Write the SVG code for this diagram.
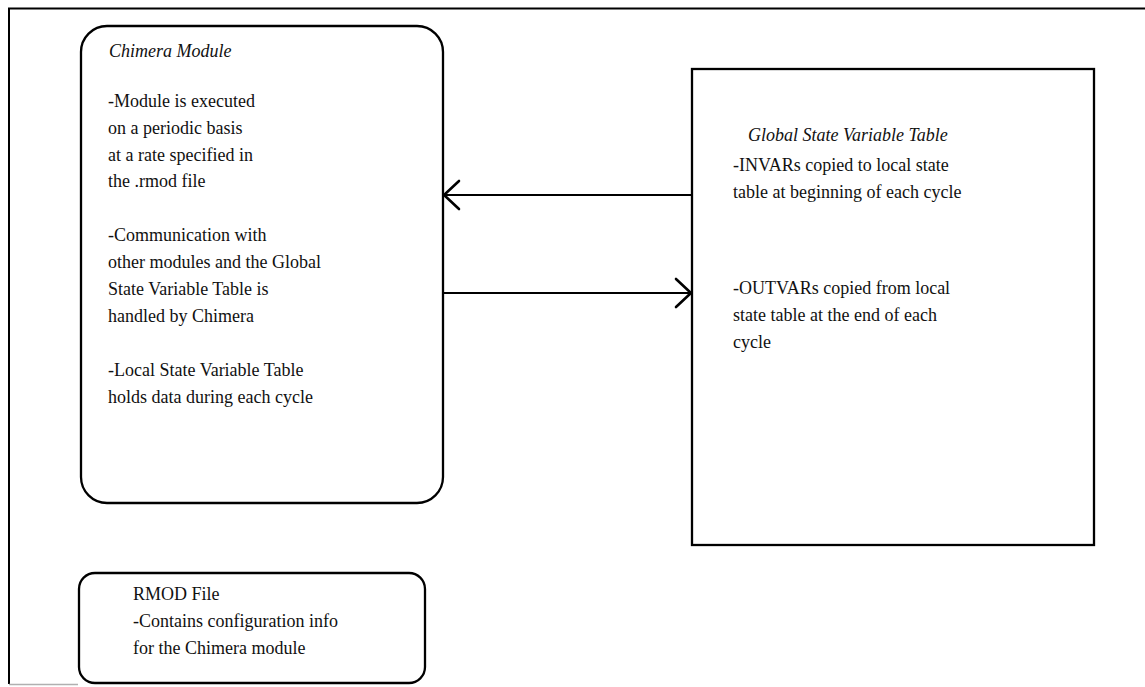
<svg xmlns="http://www.w3.org/2000/svg" width="1145" height="687" viewBox="0 0 1145 687">
<style>
  .box { fill: #ffffff; stroke: #000000; stroke-width: 2.3; }
  .t { font-size: 18px; fill: #111111; }
  .ti { font-size: 18px; font-style: italic; fill: #111111; }
  .conn { stroke: #000000; stroke-width: 2.2; fill: none; }
  .head { stroke: #000000; stroke-width: 2.6; fill: none; stroke-linecap: round; stroke-linejoin: miter; }
</style>
<rect x="0" y="0" width="1145" height="687" fill="#ffffff"/>
<g id="frame">
  <path d="M9,684 V8.5 H1145" fill="none" stroke="#000000" stroke-width="2"/>
  <line x1="9" y1="684.5" x2="78" y2="684.5" stroke="#b0b0b0" stroke-width="1.5"/>
</g>
<g id="chimera-module" font-family="Liberation Serif, DejaVu Serif, serif">
  <rect class="box" x="81" y="26" width="362" height="477" rx="26" ry="26"/>
  <text class="ti" x="109" y="57">Chimera Module</text>
  <text class="t" x="108" y="107">-Module is executed</text>
  <text class="t" x="108" y="134">on a periodic basis</text>
  <text class="t" x="108" y="161">at a rate specified in</text>
  <text class="t" x="108" y="187">the .rmod file</text>
  <text class="t" x="108" y="241">-Communication with</text>
  <text class="t" x="108" y="268">other modules and the Global</text>
  <text class="t" x="108" y="295">State Variable Table is</text>
  <text class="t" x="108" y="322">handled by Chimera</text>
  <text class="t" x="108" y="376">-Local State Variable Table</text>
  <text class="t" x="108" y="403">holds data during each cycle</text>
</g>
<g id="global-state-table" font-family="Liberation Serif, DejaVu Serif, serif">
  <rect class="box" x="692" y="69" width="402" height="476"/>
  <text class="ti" x="748" y="141">Global State Variable Table</text>
  <text class="t" x="733" y="171">-INVARs copied to local state</text>
  <text class="t" x="733" y="198">table at beginning of each cycle</text>
  <text class="t" x="733" y="294">-OUTVARs copied from local</text>
  <text class="t" x="733" y="321">state table at the end of each</text>
  <text class="t" x="733" y="348">cycle</text>
</g>
<g id="rmod-file" font-family="Liberation Serif, DejaVu Serif, serif">
  <rect class="box" x="79" y="573" width="346" height="110" rx="16" ry="16"/>
  <text class="t" x="133" y="600">RMOD File</text>
  <text class="t" x="133" y="627">-Contains configuration info</text>
  <text class="t" x="133" y="654">for the Chimera module</text>
</g>
<g id="connectors">
  <line class="conn" x1="692" y1="195" x2="444" y2="195"/>
  <path class="head" d="M459,181 L444,195 L459,209"/>
  <line class="conn" x1="443" y1="293" x2="691" y2="293"/>
  <path class="head" d="M676,279 L691,293 L676,307"/>
</g>
</svg>
